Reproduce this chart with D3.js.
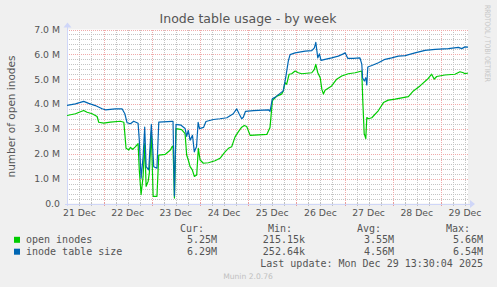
<!DOCTYPE html>
<html>
<head>
<meta charset="utf-8">
<script src="https://cdn.jsdelivr.net/npm/d3@7"></script>
<style>
  body { margin: 0; background: #f0f0f0; }
  text { font-family: "DejaVu Sans", sans-serif; fill: #555; }
  .mono { font-family: "DejaVu Sans Mono", monospace; font-size: 10px; }
</style>
</head>
<body>
<div id="chart"></div>
<script>
// hours since 21 Dec 00:00, values in millions
var openHours = [5.8, 10, 14.1, 15.8, 18.3, 20.8, 21.6, 24.1, 27.4, 32.4, 34.1, 34.6, 35.2, 36.6, 37.4, 38.5, 39.8, 41.2, 41.8, 42.7, 43.7, 44.5, 45.2, 46.2, 46.8, 47.8, 48.7, 50.6, 51.5, 54.8, 57.3, 58.1, 58.6, 59.3, 60.1, 62.9, 64.6, 65.4, 66.2, 67.1, 68.2, 69.2, 70.4, 71.2, 72.1, 73.7, 76.2, 79.5, 82, 84.5, 86.2, 87.8, 89.5, 91.1, 92.8, 94.1, 95.3, 97, 105.3, 106.9, 108.1, 110.3, 112.7, 113.5, 114.4, 115.2, 116.4, 117.7, 119.4, 121, 122.7, 127.7, 129, 129.7, 130.7, 131.9, 132.7, 133.5, 134.3, 137.6, 140.1, 142.6, 145.9, 149.3, 152.6, 153.1, 153.8, 154.6, 155.1, 155.9, 157.6, 160.9, 163.4, 165.8, 169.2, 175.8, 178.3, 181.6, 185.7, 187.4, 188.7, 189.9, 194, 199, 201.5, 203.2, 204, 205.5]
var openInodes = [3.54, 3.61, 3.74, 3.67, 3.61, 3.5, 3.27, 3.23, 3.27, 3.31, 3.27, 2.81, 2.22, 2.15, 2.26, 2.18, 2.28, 2.41, 1.35, 0.36, 1.09, 2.41, 0.69, 0.89, 1.22, 2.88, 0.29, 0.29, 1.95, 1.98, 2.15, 2.28, 2.31, 0.22, 3.01, 2.97, 2.81, 1.95, 1.75, 1.48, 1.35, 1.09, 1.15, 2.22, 1.75, 1.62, 1.64, 1.72, 1.82, 2.08, 2.22, 2.28, 2.68, 2.88, 3.07, 3.14, 3.1, 2.74, 2.78, 3.06, 4.14, 4.32, 4.4, 4.53, 4.86, 4.8, 5.2, 5.22, 5.33, 5.26, 5.22, 5.26, 5.4, 5.6, 5.26, 5.06, 4.6, 4.4, 4.56, 4.73, 5, 5.13, 5.22, 5.26, 5.33, 4.14, 2.81, 2.61, 3.46, 3.41, 3.45, 3.74, 4.06, 4.16, 4.2, 4.3, 4.53, 4.73, 5.03, 5.2, 5, 5.11, 5.17, 5.2, 5.3, 5.26, 5.22, 5.25]

var tableHours = [5.8, 10, 14.1, 16.6, 19.9, 23.3, 24.9, 29.9, 33.2, 34.6, 35.7, 37.4, 39, 41.2, 41.8, 42.7, 43.7, 44.5, 45.2, 46.5, 47.8, 49, 50.6, 51.5, 58.1, 58.6, 59.3, 60.1, 62.6, 64.6, 65.4, 66.2, 67.1, 68.3, 69.2, 70.3, 71.1, 71.8, 73.8, 75, 78.7, 82, 85.4, 88.6, 90.3, 91.5, 92.8, 93.6, 94.7, 98.6, 106.1, 106.9, 108.1, 109.4, 111.9, 113.5, 114.7, 116, 116.9, 119.4, 124.4, 127.7, 129, 129.7, 130.7, 131.5, 132.3, 134.3, 137.6, 140.9, 143.4, 144.3, 145.6, 148.4, 151.7, 152.6, 153, 153.9, 154.6, 155.1, 155.6, 157.6, 160.9, 164.2, 167.5, 170.8, 174.2, 179.1, 184.1, 189.1, 195.7, 200.7, 202.4, 204, 205.5]
var tableSize = [3.95, 4.01, 4.11, 4.03, 3.94, 3.81, 3.77, 3.81, 3.81, 3.61, 3.25, 3.21, 3.31, 3.23, 2.55, 1.02, 1.88, 3.07, 1.48, 1.35, 3.18, 1.48, 1.42, 3.27, 3.3, 3.3, 0.3, 3.18, 3.15, 3.02, 2.7, 2.94, 2.55, 2.74, 2.08, 2.28, 3.26, 3.01, 3.06, 3.3, 3.38, 3.41, 3.45, 3.61, 3.81, 3.61, 3.41, 3.47, 3.71, 3.74, 3.77, 3.71, 4.22, 4.27, 4.43, 4.53, 5.06, 5.73, 5.99, 6.06, 6.13, 6.15, 6.26, 6.48, 5.86, 6.02, 5.76, 5.8, 5.86, 5.93, 6.02, 6.06, 5.84, 5.84, 5.86, 5.61, 5.05, 4.93, 5.06, 4.77, 5.49, 5.55, 5.66, 5.8, 5.86, 5.93, 5.95, 6.06, 6.16, 6.2, 6.23, 6.28, 6.23, 6.3, 6.29]

var yTicks = [0, 1, 2, 3, 4, 5, 6, 7]
var dayLabels = ["21 Dec", "22 Dec", "23 Dec", "24 Dec", "25 Dec", "26 Dec", "27 Dec", "28 Dec", "29 Dec"]

var legendNames = ["open inodes", "inode table size"]
var legendColors = ["#00cc00", "#0066b3"]
var statHeads = ["Cur:", "Min:", "Avg:", "Max:"]
var statRows = [["5.25M", "215.15k", "3.55M", "5.66M"],
                ["6.29M", "252.64k", "4.56M", "6.54M"]]

var width = 497, height = 287
var plot = {left: 67, right: 468, top: 29.5, bottom: 203.5}

var day0 = new Date(2025, 11, 21)
function hourDate(h){ return new Date(+day0 + h * 3600e3) }

var svg = d3.select('#chart')
  .append('svg')
    .attr('width', width)
    .attr('height', height)

svg.append('rect')
    .attr('width', width).attr('height', height).attr('fill', '#f0f0f0')

var x = d3.scaleTime()
    .domain([hourDate(5.8), hourDate(205.5)])
    .range([plot.left, plot.right])
var y = d3.scaleLinear()
    .domain([0, 7])
    .range([plot.bottom, plot.top])

svg.append('rect')
    .attr('x', plot.left).attr('y', plot.top)
    .attr('width', plot.right - plot.left).attr('height', plot.bottom - plot.top)
    .attr('fill', '#fff')

// grid
var minorX = d3.timeHour.every(6).range(x.domain()[0], x.domain()[1]).filter(function(d){ return d.getHours() !== 0 })
var majorX = d3.timeDay.range(x.domain()[0], x.domain()[1])
var minorY = d3.range(1, 35).map(function(i){ return i * 0.2 }).filter(function(v){ return Math.abs(v - Math.round(v)) > 0.01 })

var minorColor = '#c4c4c4', majorColor = '#f0aaaa'
function px(v){ return Math.round(v) + 0.5 }

var grid = svg.append('g').attr('shape-rendering', 'crispEdges')
grid.selectAll('.mx').data(minorX).enter().append('line')
    .attr('x1', function(d){ return px(x(d)) }).attr('x2', function(d){ return px(x(d)) })
    .attr('y1', plot.top).attr('y2', plot.bottom)
    .attr('stroke', minorColor).attr('stroke-dasharray', '1,1')
grid.selectAll('.my').data(minorY).enter().append('line')
    .attr('y1', function(d){ return px(y(d)) }).attr('y2', function(d){ return px(y(d)) })
    .attr('x1', plot.left).attr('x2', plot.right)
    .attr('stroke', minorColor).attr('stroke-dasharray', '1,1')
grid.selectAll('.Mx').data(majorX).enter().append('line')
    .attr('x1', function(d){ return px(x(d)) }).attr('x2', function(d){ return px(x(d)) })
    .attr('y1', plot.top).attr('y2', plot.bottom)
    .attr('stroke', majorColor).attr('stroke-dasharray', '1,1')
grid.selectAll('.My').data(yTicks.slice(1)).enter().append('line')
    .attr('y1', function(d){ return px(y(d)) }).attr('y2', function(d){ return px(y(d)) })
    .attr('x1', plot.left).attr('x2', plot.right)
    .attr('stroke', majorColor).attr('stroke-dasharray', '1,1')

// x axis ticks
grid.selectAll('.tx').data(minorX).enter().append('line')
    .attr('x1', function(d){ return px(x(d)) }).attr('x2', function(d){ return px(x(d)) })
    .attr('y1', plot.bottom - 1.5).attr('y2', plot.bottom + 2.5)
    .attr('stroke', '#c0c0c0')
grid.selectAll('.Tx').data(majorX).enter().append('line')
    .attr('x1', function(d){ return px(x(d)) }).attr('x2', function(d){ return px(x(d)) })
    .attr('y1', plot.bottom - 1.5).attr('y2', plot.bottom + 2.5)
    .attr('stroke', '#e89c9c')

// axes + arrows
var axisColor = '#cfd6f8'
grid.append('line')
    .attr('x1', plot.left - 2).attr('x2', plot.right + 3)
    .attr('y1', px(plot.bottom)).attr('y2', px(plot.bottom))
    .attr('stroke', axisColor)
grid.append('line')
    .attr('x1', plot.left + 0.5).attr('x2', plot.left + 0.5)
    .attr('y1', plot.bottom + 2).attr('y2', plot.top - 4)
    .attr('stroke', axisColor)
svg.append('path')
    .attr('d', ['M', plot.right + 2, plot.bottom - 3.5, 'L', plot.right + 7, plot.bottom + 0.5, 'L', plot.right + 2, plot.bottom + 4.5, 'Z'].join(' '))
    .attr('fill', axisColor)
svg.append('path')
    .attr('d', ['M', plot.left - 3.5, plot.top - 2, 'L', plot.left + 0.5, plot.top - 7, 'L', plot.left + 4.5, plot.top - 2, 'Z'].join(' '))
    .attr('fill', axisColor)

// y labels
svg.selectAll('.yl').data(yTicks).enter().append('text')
    .attr('x', 60).attr('y', function(d){ return y(d) + 3.3 })
    .attr('text-anchor', 'end').attr('font-size', 9.3)
    .text(function(d){ return d === 0 ? '0.0' : d.toFixed(1) + ' M' })

// x labels at noon
svg.selectAll('.xl').data(dayLabels).enter().append('text')
    .attr('x', function(d, i){ return x(new Date(2025, 11, 21 + i, 12)) })
    .attr('y', 216).attr('text-anchor', 'middle').attr('font-size', 9.3)
    .text(function(d){ return d })

// lines
svg.append('clipPath').attr('id', 'clip').append('rect')
    .attr('x', plot.left).attr('y', plot.top - 10)
    .attr('width', plot.right - plot.left + 1).attr('height', plot.bottom - plot.top + 10)

var line = d3.line()
    .x(function(d){ return x(hourDate(d[0])) })
    .y(function(d){ return y(d[1]) })

var series = [d3.zip(openHours, openInodes), d3.zip(tableHours, tableSize)]
svg.append('g').attr('clip-path', 'url(#clip)')
  .selectAll('path').data(series).enter().append('path')
    .attr('d', line)
    .attr('fill', 'none')
    .attr('stroke', function(d, i){ return legendColors[i] })
    .attr('stroke-width', 1.2)
    .attr('stroke-linejoin', 'round')

// titles
svg.append('text')
    .attr('x', 248).attr('y', 22.5).attr('text-anchor', 'middle')
    .attr('font-size', 12.5).attr('fill', '#555')
    .text('Inode table usage - by week')

svg.append('text')
    .attr('transform', 'translate(15,' + (plot.top + plot.bottom) / 2 + ') rotate(-90)')
    .attr('text-anchor', 'middle').attr('font-size', 10.5)
    .text('number of open inodes')

svg.append('text')
    .attr('transform', 'translate(484.5,5) rotate(90)')
    .attr('font-size', 7.5).attr('textLength', 77).attr('lengthAdjust', 'spacingAndGlyphs')
    .style('fill', '#c8c8c8')
    .text('RRDTOOL / TOBI OETIKER')

// legend
var colEnds = [217, 305, 394, 483]
var headEnds = [204, 292, 381, 470]
svg.selectAll('.sh').data(statHeads).enter().append('text')
    .attr('class', 'mono').attr('text-anchor', 'end')
    .attr('x', function(d, i){ return headEnds[i] }).attr('y', 231.5)
    .text(function(d){ return d })

legendNames.forEach(function(name, r){
  var by = 243.3 + r * 11.9
  svg.append('rect')
      .attr('x', 14).attr('y', by - 6.5).attr('width', 6).attr('height', 6)
      .attr('fill', legendColors[r])
  svg.append('text').attr('class', 'mono')
      .attr('x', 26).attr('y', by).text(name)
  svg.selectAll('.v' + r).data(statRows[r]).enter().append('text')
      .attr('class', 'mono').attr('text-anchor', 'end')
      .attr('x', function(d, i){ return colEnds[i] }).attr('y', by)
      .text(function(d){ return d })
})

svg.append('text').attr('class', 'mono').attr('text-anchor', 'end')
    .attr('x', 483).attr('y', 267)
    .text('Last update: Mon Dec 29 13:30:04 2025')

svg.append('text')
    .attr('x', 248).attr('y', 278.5).attr('text-anchor', 'middle')
    .attr('font-size', 7.6).style('fill', '#c0c0c0')
    .text('Munin 2.0.76')
</script>
</body>
</html>
